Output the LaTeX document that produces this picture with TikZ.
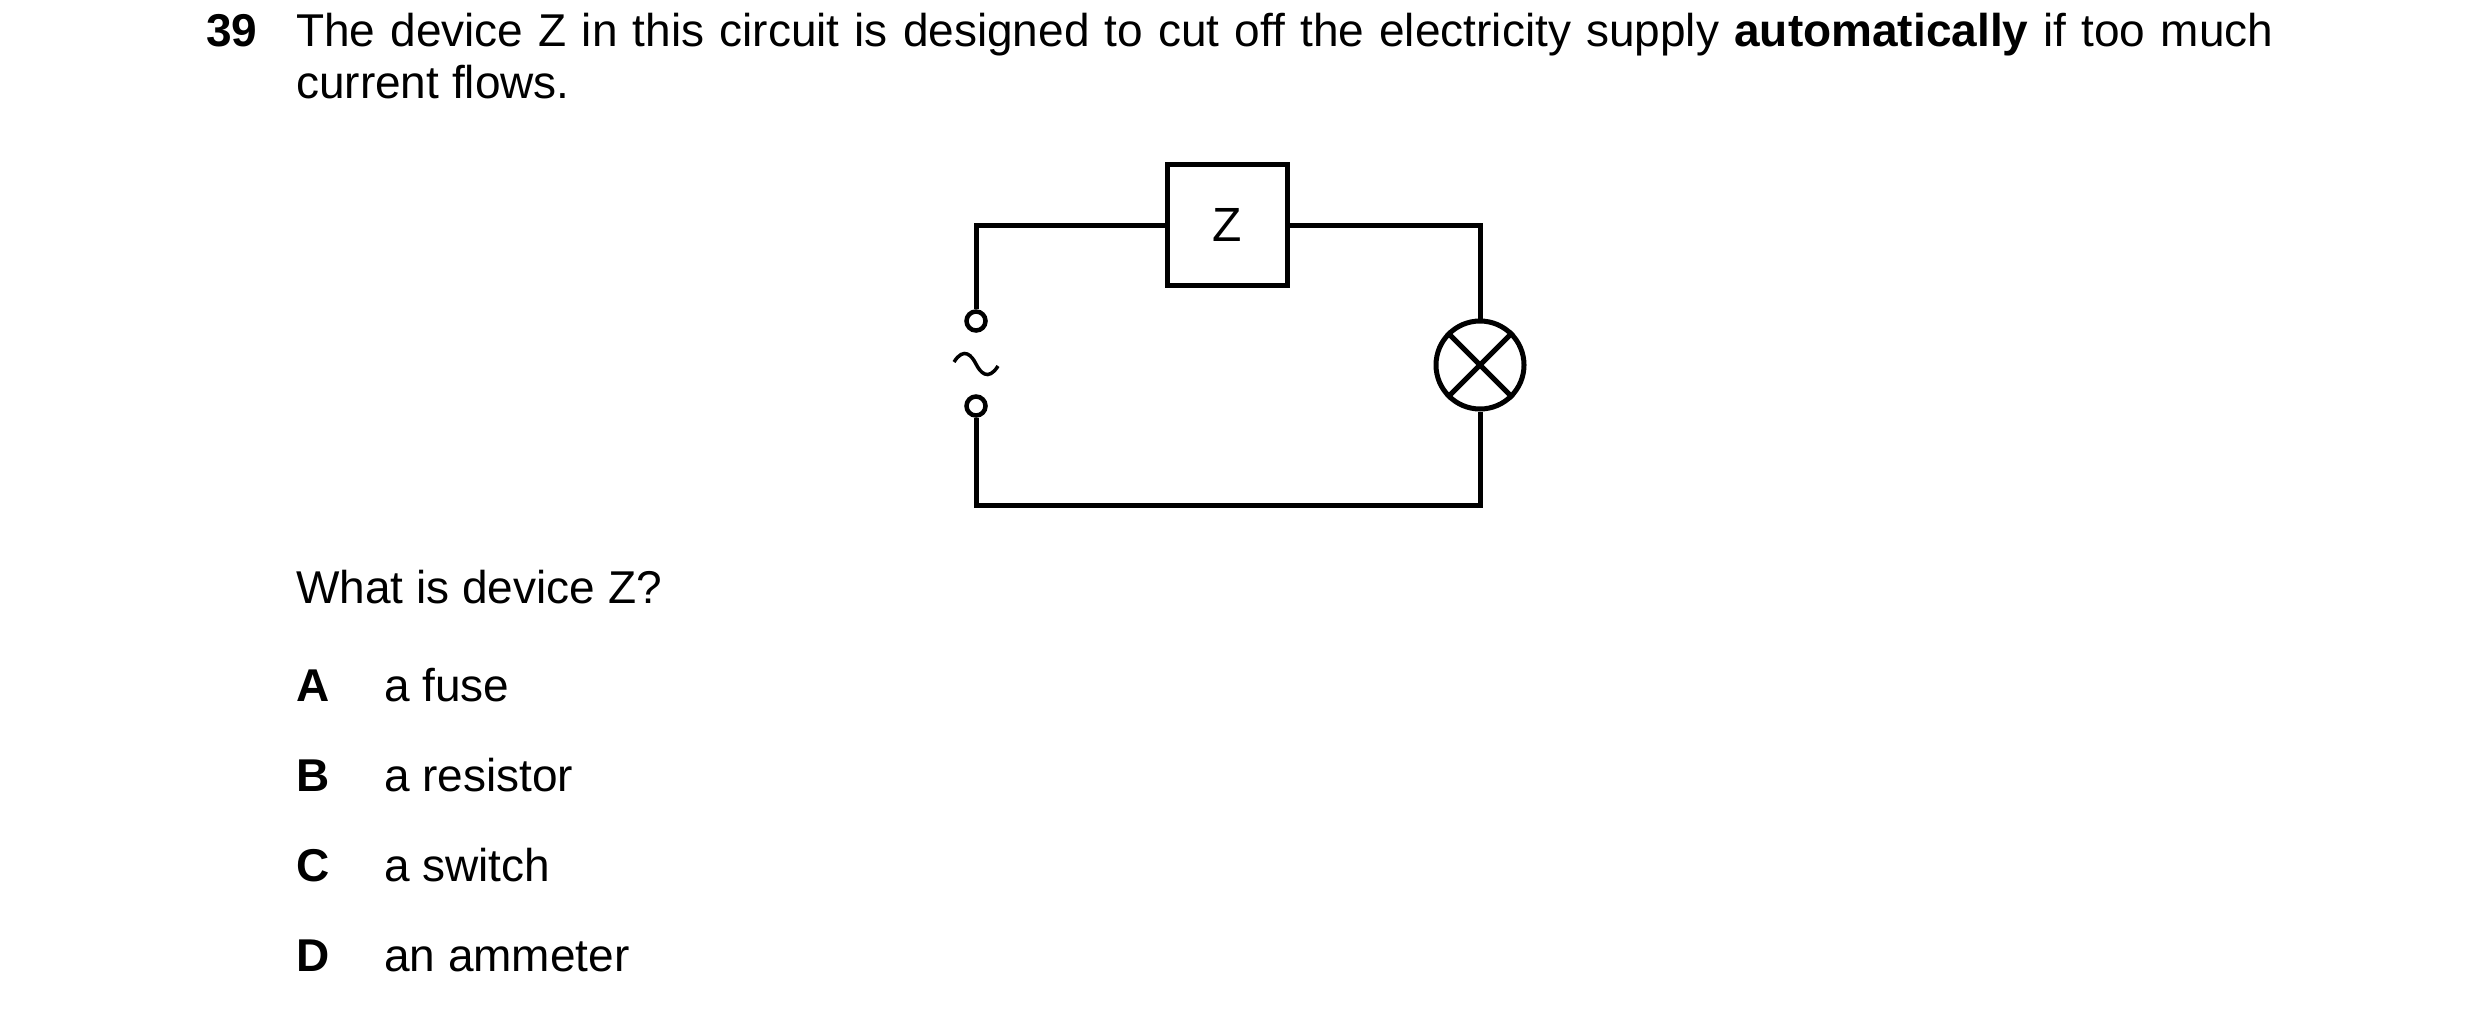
\documentclass[tikz,border=0pt]{standalone}
\usepackage{fontspec}
\setmainfont{Liberation Sans}
\begin{document}
\begin{tikzpicture}[x=1pt,y=-1pt,
  txt/.style={anchor=base west,inner sep=0pt,font=\fontsize{46}{54}\selectfont},
  wire/.style={line width=5pt},
  term/.style={circle,draw,line width=4.5pt,minimum size=19pt,inner sep=0pt}]
\useasboundingbox (0,0) rectangle (2480,1012);
\node[txt] (num) at (206,46) {\textbf{39}};
\node[txt] (l1) at (296,46) {\makebox[1977pt][s]{The device Z in this circuit is designed to cut off the electricity supply \textbf{automatically} if too much}};
\node[txt] (l2) at (296,98) {current flows.};
\node[txt] (q) at (296,603) {What is device Z?};
\foreach \n/\L/\t/\y in {a/A/a fuse/701, b/B/a resistor/791, c/C/a switch/881, d/D/an ammeter/971}{
  \node[txt] (\n L) at (296,\y) {\textbf{\L}};
  \node[txt] (\n T) at (384,\y) {\t};
}
% circuit
\node[draw,line width=5pt,minimum width=120pt,minimum height=121pt,inner sep=0pt,font=\fontsize{48}{54}\selectfont] (Z) at (1227,225) {Z};
\node[circle,draw,line width=5pt,minimum size=88pt,inner sep=0pt] (lamp) at (1480,365) {};
\draw[wire] (lamp.45) -- (lamp.225) (lamp.135) -- (lamp.315);
\node[term] (t1) at (976,321) {};
\node[term] (t2) at (976,406) {};
\coordinate (tl) at (976,225);
\coordinate (tr) at (1480,225);
\coordinate (bl) at (976,505);
\coordinate (br) at (1480,505);
\draw[wire] (t1.north) -- (tl) -- (Z.west);
\draw[wire] (Z.east) -- (tr) -- (lamp.north);
\draw[wire] (lamp.south) -- (br) -- (bl) -- (t2.south);
\coordinate (tilde) at (976,364);
\draw[line width=3.5pt] ([xshift=-22pt,yshift=2pt]tilde) .. controls ([xshift=-12pt,yshift=18pt]tilde) and ([xshift=-4pt,yshift=8pt]tilde) .. (tilde) .. controls ([xshift=4pt,yshift=-8pt]tilde) and ([xshift=12pt,yshift=-18pt]tilde) .. ([xshift=22pt,yshift=-2pt]tilde);
\end{tikzpicture}
\end{document}
